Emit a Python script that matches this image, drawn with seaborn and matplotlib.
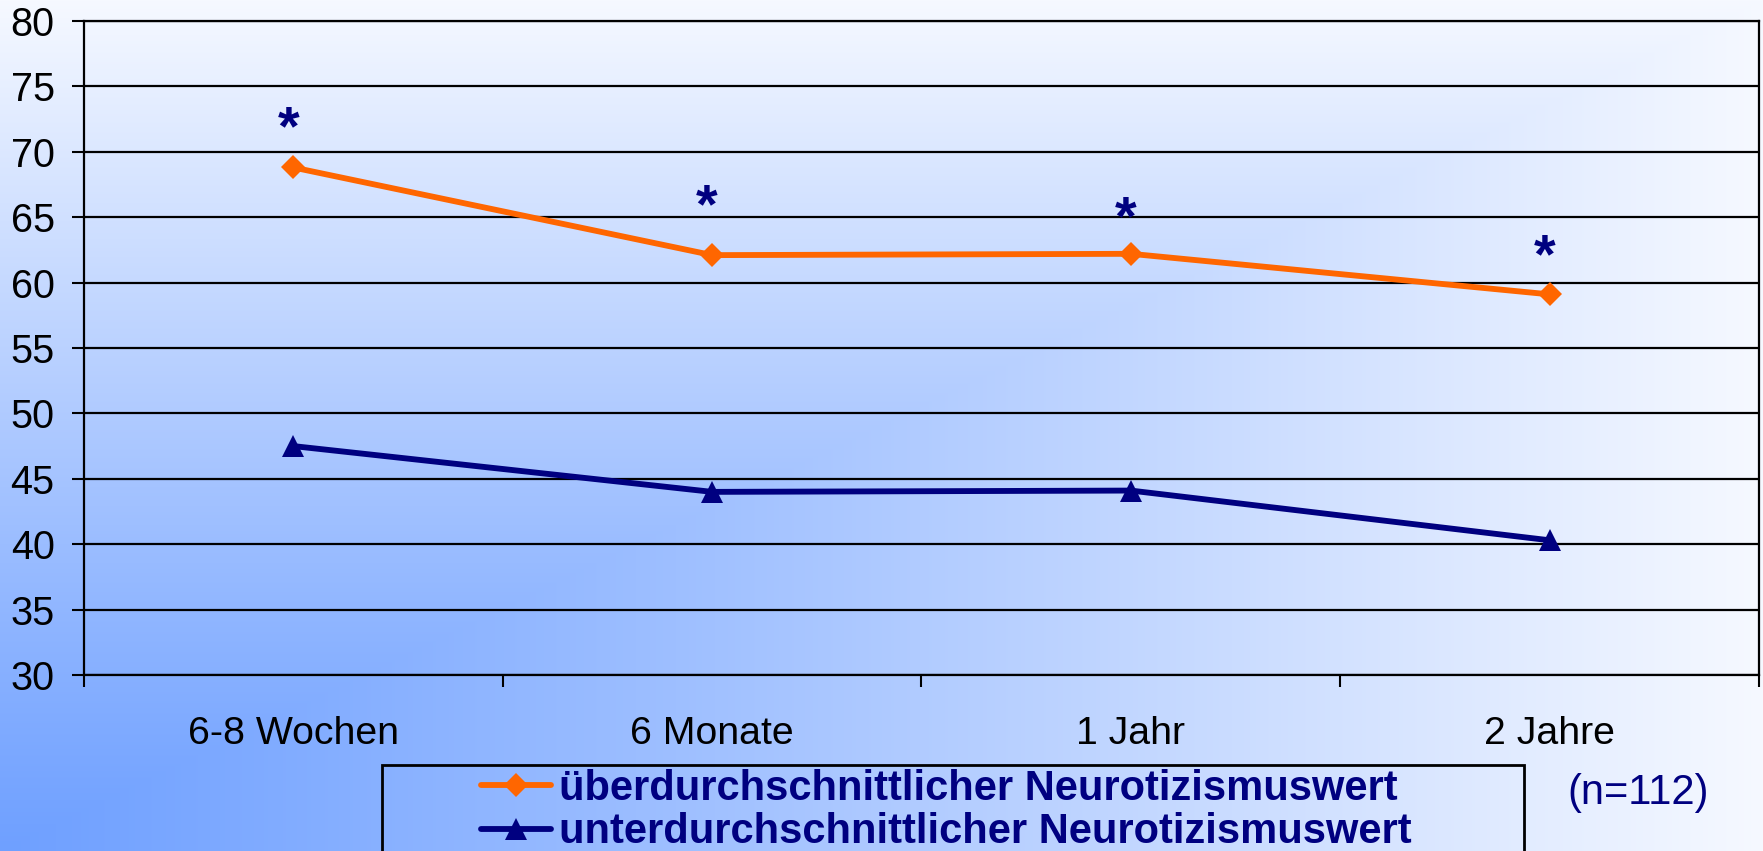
import numpy as np
import matplotlib
matplotlib.use("Agg")
import matplotlib.pyplot as plt
from matplotlib.patches import Rectangle
from matplotlib.ticker import FixedLocator
import seaborn as sns

# Messzeitpunkte und Mittelwerte je Gruppe
zeitpunkte = ["6-8 Wochen", "6 Monate", "1 Jahr", "2 Jahre"]
ueber = [68.8, 62.1, 62.2, 59.1]
unter = [47.5, 44.0, 44.1, 40.3]
stern_hoehe = [72.8, 66.8, 65.9, 63.0]   # Höhe der Signifikanz-Sterne
label_ueber = "überdurchschnittlicher Neurotizismuswert"
label_unter = "unterdurchschnittlicher Neurotizismuswert"
y_ticks = list(range(30, 81, 5))
stichprobe = "(n=112)"

ORANGE = "#FF6600"
NAVY = "#000080"

sns.set_style("white")
plt.rcParams["font.family"] = ["Liberation Sans", "DejaVu Sans"]

W, H = 1763, 851
fig = plt.figure(figsize=(W / 100, H / 100), dpi=100)

# Hintergrund: Farbverlauf aus der linken unteren Ecke
bg = fig.add_axes([0, 0, 1, 1], zorder=-10)
gx = np.linspace(0, 1, W)[None, :]
gy = np.linspace(1, 0, H)[:, None]
t = np.maximum(gx, gy) ** 1.1
c0 = np.array([111, 160, 255]) / 255
c1 = np.array([246, 249, 255]) / 255
grad = c0 + (c1 - c0) * t[..., None]
bg.imshow(grad, extent=[0, 1, 0, 1], aspect="auto")
bg.axis("off")

ax = fig.add_axes([84 / W, 1 - 675 / H, (1759 - 84) / W, (675 - 21) / H])
ax.set_facecolor("none")

sns.lineplot(x=zeitpunkte, y=ueber, ax=ax, color=ORANGE, lw=4.2, marker="D",
             markersize=12.5, markeredgewidth=0, label=label_ueber, sort=False)
sns.lineplot(x=zeitpunkte, y=unter, ax=ax, color=NAVY, lw=4.2, marker="^",
             markersize=16, markeredgewidth=0, label=label_unter, sort=False)

for i, h in enumerate(stern_hoehe):
    ax.text(i - 0.012, h - 2.2, "*", ha="center", va="baseline", fontsize=40,
            fontweight="bold", color=NAVY)

ax.set_xlim(-0.5, len(zeitpunkte) - 0.5)
ax.set_ylim(y_ticks[0], y_ticks[-1])
ax.set_yticks(y_ticks)
ax.set_xlabel("")
ax.set_ylabel("")
ax.xaxis.set_minor_locator(FixedLocator(np.arange(-0.5, len(zeitpunkte), 1)))
ax.tick_params(axis="x", which="major", length=0, pad=29.5, labelsize=28.3,
               labelcolor="black", bottom=True)
ax.tick_params(axis="x", which="minor", length=8.5, width=1.5, direction="out",
               color="black", bottom=True)
ax.tick_params(axis="y", length=8.6, width=1.5, pad=12.5, labelsize=28.5,
               direction="out", color="black", left=True, labelcolor="black")
ax.yaxis.grid(True, color="black", lw=1.6)
ax.xaxis.grid(False)
for sp in ax.spines.values():
    sp.set_visible(True)
    sp.set_color("black")
    sp.set_linewidth(1.6)

handles, labels = ax.get_legend_handles_labels()
ax.get_legend().remove()
fig.legend(handles, labels, loc="upper left",
           bbox_to_anchor=(481 / W, 1 - 769 / H), frameon=False,
           borderpad=0, borderaxespad=0, handlelength=1.68,
           handletextpad=0.2, labelspacing=0.08,
           prop={"weight": "bold", "size": 30}, labelcolor=NAVY)
fig.add_artist(Rectangle((382 / W, -0.05), (1524 - 382) / W, (1 - 765 / H) + 0.05,
                         transform=fig.transFigure, fill=False, ec="black", lw=2))

fig.text(1638 / W, 1 - 793 / H, stichprobe, ha="center", va="center",
         fontsize=30, color=NAVY)

fig.savefig("out.png", dpi=100)
